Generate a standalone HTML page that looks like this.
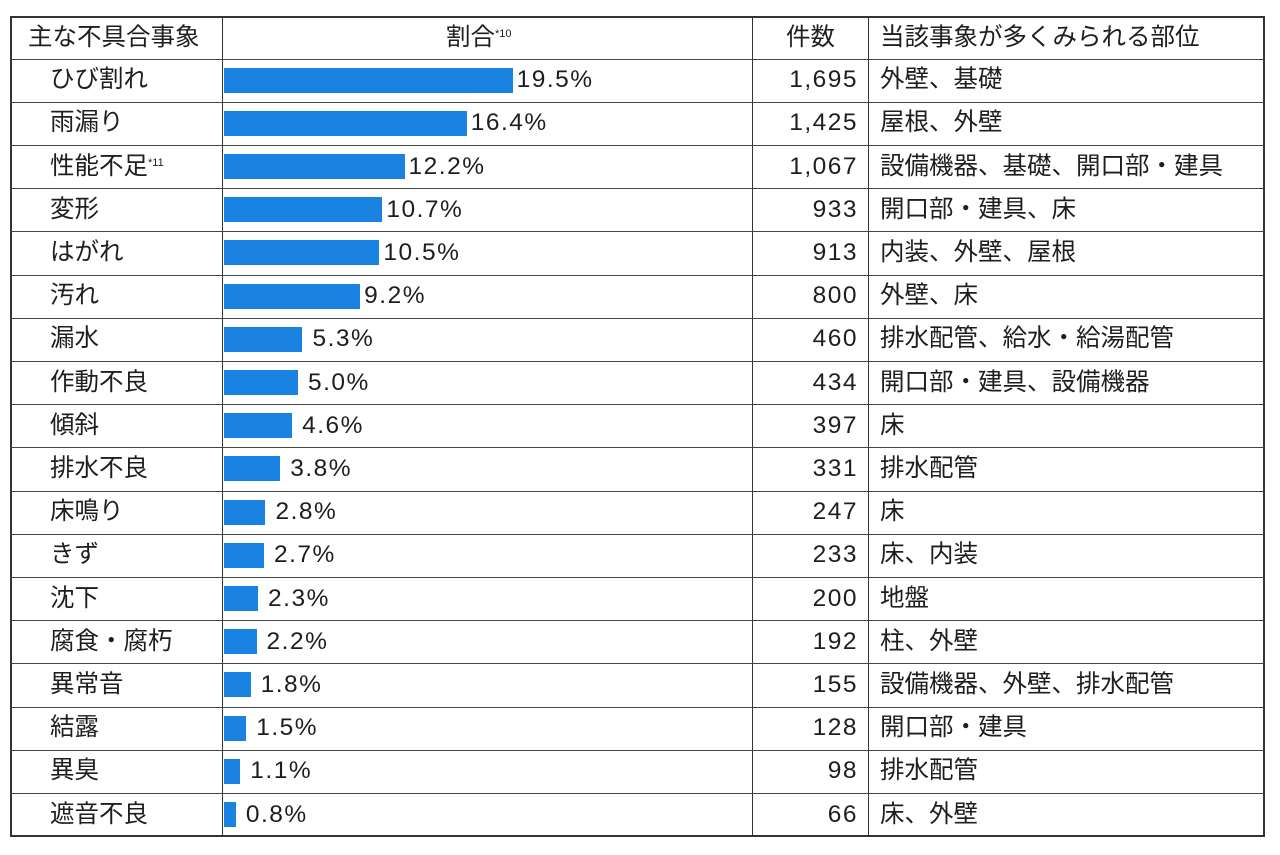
<!DOCTYPE html>
<html><head><meta charset="utf-8"><style>
html,body{margin:0;padding:0;background:#fff;width:1280px;height:855px;overflow:hidden}
body{font-family:"Liberation Sans","Noto Sans CJK JP",sans-serif;color:#1e1e1e}
.t{position:absolute;left:10px;top:16px;width:1255px;height:821px;border:2px solid #333;box-sizing:border-box}
.h{position:absolute;height:0;border-top:1.5px solid #444}
.v{position:absolute;top:16px;height:821px;width:0;border-left:1.5px solid #333}
.c{position:absolute;font-size:24.5px;line-height:28px;white-space:nowrap}
.n{letter-spacing:1.5px}
.bar{position:absolute;left:224px;height:25px;background:#1a82e0}
sup{font-size:11px;vertical-align:top;position:relative;top:-4px}
</style></head><body>
<div class="t"></div>
<div class="v" style="left:222px"></div>
<div class="v" style="left:752px"></div>
<div class="v" style="left:868px"></div>
<div id="g"></div>
<div class="c" style="left:28px;top:24px">主な不具合事象</div>
<div class="c" style="left:446px;top:24px">割合<sup>*10</sup></div>
<div class="c" style="left:786px;top:24px">件数</div>
<div class="c" style="left:880px;top:24px">当該事象が多くみられる部位</div>
<script>
var d=[["ひび割れ",19.5,"1,695","外壁、基礎"],["雨漏り",16.4,"1,425","屋根、外壁"],["性能不足<sup>*11</sup>",12.2,"1,067","設備機器、基礎、開口部・建具"],["変形",10.7,"933","開口部・建具、床"],["はがれ",10.5,"913","内装、外壁、屋根"],["汚れ",9.2,"800","外壁、床"],["漏水",5.3,"460","排水配管、給水・給湯配管"],["作動不良",5.0,"434","開口部・建具、設備機器"],["傾斜",4.6,"397","床"],["排水不良",3.8,"331","排水配管"],["床鳴り",2.8,"247","床"],["きず",2.7,"233","床、内装"],["沈下",2.3,"200","地盤"],["腐食・腐朽",2.2,"192","柱、外壁"],["異常音",1.8,"155","設備機器、外壁、排水配管"],["結露",1.5,"128","開口部・建具"],["異臭",1.1,"98","排水配管"],["遮音不良",0.8,"66","床、外壁"]];
var h="";
for(var i=0;i<d.length;i++){
var yy=58.5+43.2*i, cy=yy+21.6;
h+='<div class="h" style="left:10px;width:1255px;top:'+yy+'px"></div>';
var w=d[i][1]*14.8;
h+='<div class="c" style="left:50px;top:'+(cy-14)+'px">'+d[i][0]+'</div>';
h+='<div class="bar" style="top:'+(cy-12.5)+'px;width:'+w+'px"></div>';
h+='<div class="c n" style="left:'+(224+w+(w>100?4:10))+'px;top:'+(cy-14)+'px">'+d[i][1].toFixed(1)+'%</div>';
h+='<div class="c n" style="right:'+(1280-858)+'px;top:'+(cy-14)+'px">'+d[i][2]+'</div>';
h+='<div class="c" style="left:880px;top:'+(cy-14)+'px">'+d[i][3]+'</div>';
}
document.getElementById("g").innerHTML=h;
</script>
</body></html>
